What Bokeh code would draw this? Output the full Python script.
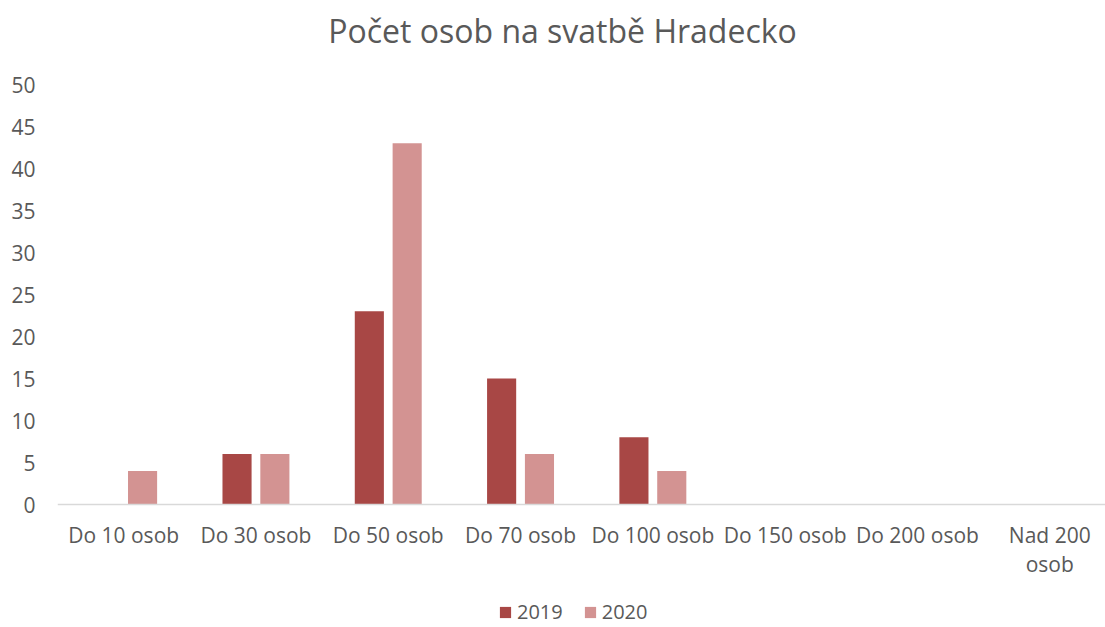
from bokeh.plotting import figure
from bokeh.models import (Range1d, FixedTicker, Legend, LegendItem,
                          ColumnDataSource, Span, Label)
from bokeh.transform import dodge
from bokeh.core.properties import value
from bokeh.embed import file_html
from bokeh.resources import INLINE

categories = ["Do 10 osob", "Do 30 osob", "Do 50 osob", "Do 70 osob",
              "Do 100 osob", "Do 150 osob", "Do 200 osob", "Nad 200\nosob"]
values_2019 = [0, 6, 23, 15, 8, 0, 0, 0]
values_2020 = [4, 6, 43, 6, 4, 0, 0, 0]
series_names = ["2019", "2020"]
y_ticks = [0, 5, 10, 15, 20, 25, 30, 35, 40, 45, 50]
title_text = "Počet osob na svatbě Hradecko"

FONT = "Open Sans"
TXT = "#595959"
C2019 = "#A84745"
C2020 = "#D39392"

W, H = 1105, 627
LEFT = 57
PX_PER_UNIT = 8.4
AXIS_Y = 504          # pixel row of value 0
CAT_PX = 132.3        # pixel width of one category

xpos = list(range(len(categories)))
src = ColumnDataSource(dict(x=xpos, y2019=values_2019, y2020=values_2020,
                            label=categories, base=[0] * len(categories)))

y_end = max(y_ticks) + (AXIS_Y - PX_PER_UNIT * max(y_ticks)) / PX_PER_UNIT
y_start = -(H - AXIS_Y) / PX_PER_UNIT
x_end = -0.5 + (W - LEFT) / CAT_PX

p = figure(width=W, height=H, output_backend="svg", toolbar_location=None,
           x_range=Range1d(-0.5, x_end), y_range=Range1d(y_start, y_end),
           min_border_left=LEFT, min_border_right=0, min_border_top=0,
           min_border_bottom=0)

r1 = p.vbar(x=dodge("x", -0.143, range=p.x_range), top="y2019", width=0.22,
            source=src, fill_color=C2019, line_color=None)
r2 = p.vbar(x=dodge("x", 0.143, range=p.x_range), top="y2020", width=0.22,
            source=src, fill_color=C2020, line_color=None)

# category axis line and labels
p.add_layout(Span(location=0, dimension="width", line_color="#D9D9D9",
                  line_width=1.5))
p.text(x="x", y="base", text="label", source=src, y_offset=16,
       text_align="center", text_baseline="top", text_color=TXT,
       text_font=value(FONT), text_font_size=value("21px"),
       text_line_height=1.05)

p.xaxis.visible = False
p.xgrid.grid_line_color = None
p.ygrid.grid_line_color = None
p.outline_line_color = None
p.background_fill_color = "white"
p.border_fill_color = "white"

ya = p.yaxis[0]
ya.ticker = FixedTicker(ticks=y_ticks)
ya.axis_line_color = None
ya.major_tick_line_color = None
ya.minor_tick_line_color = None
ya.major_tick_out = 0
ya.major_tick_in = 0
ya.major_label_text_font = FONT
ya.major_label_text_font_size = "21px"
ya.major_label_text_color = TXT
ya.major_label_standoff = 22

title = Label(x=505, y=H - 30, x_units="screen", y_units="screen",
              text=title_text, text_align="center", text_baseline="middle",
              text_font=FONT, text_font_size="32px", text_color=TXT)
p.add_layout(title)

legend = Legend(items=[LegendItem(label=series_names[0], renderers=[r1]),
                       LegendItem(label=series_names[1], renderers=[r2])],
                location=(441, 2), orientation="horizontal",
                glyph_width=14, glyph_height=14, label_standoff=5, spacing=20,
                padding=0, margin=0, border_line_color=None,
                background_fill_alpha=0, label_text_font=FONT,
                label_text_font_size="20px", label_text_color=TXT,
                label_height=14)
p.add_layout(legend, "center")

open("out.html", "w").write(file_html(p, INLINE))
